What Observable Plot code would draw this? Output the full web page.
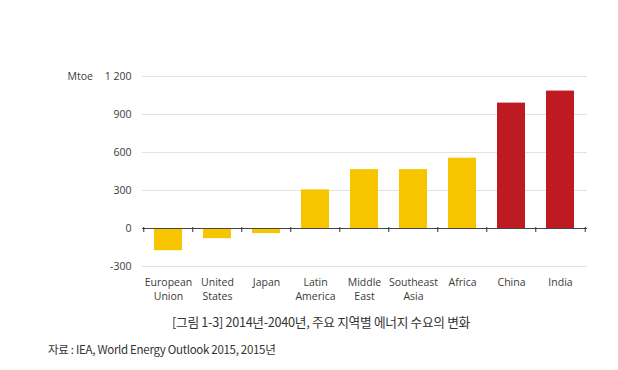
<!DOCTYPE html>
<html><head><meta charset="utf-8">
<script src="https://cdn.jsdelivr.net/npm/d3@7"></script>
<script src="https://cdn.jsdelivr.net/npm/@observablehq/plot@0.6"></script>
<style>
body{margin:0;background:#fff;width:618px;height:370px;overflow:hidden;font-family:"Open Sans",sans-serif;}
#chart{position:absolute;left:0;top:0;}
#title{position:absolute;top:312px;left:0;width:642px;text-align:center;font-family:"Liberation Sans Narrow","Noto Sans CJK KR",sans-serif;font-size:12.7px;color:#333;letter-spacing:-0.3px;}
#src{position:absolute;top:341px;left:48px;font-family:"Liberation Sans Narrow","Noto Sans CJK KR",sans-serif;font-size:11.5px;color:#333;letter-spacing:-0.3px;}
</style></head>
<body>
<div id="chart"></div>
<div id="title">[그림 1-3] 2014년-2040년, 주요 지역별 에너지 수요의 변화</div>
<div id="src">자료 : IEA, World Energy Outlook 2015, 2015년</div>
<script>
const regions = ["European Union","United States","Japan","Latin America","Middle East","Southeast Asia","Africa","China","India"];
const labels = ["European\nUnion","United\nStates","Japan","Latin\nAmerica","Middle\nEast","Southeast\nAsia","Africa","China","India"];
const change = [-175,-80,-40,305,465,465,555,990,1085];
const group = ["other","other","other","other","other","other","other","highlight","highlight"];
const yTicks = [-300,0,300,600,900,1200];

const data = regions.map((r,i)=>({region:r,value:change[i],group:group[i]}));
const W=618, H=312, ML=142, MR=31;
const step = (W-ML-MR)/regions.length;
const fmt = d => String(d).replace(/\B(?=(\d{3})+(?!\d))/g," ");
const tickStyle = {y1:()=>0, y2:()=>0, insetTop:-1, insetBottom:-4, stroke:"#333", strokeWidth:1};

const chart = Plot.plot({
  width:W, height:H, marginTop:76, marginBottom:46, marginLeft:ML, marginRight:MR,
  style:{fontFamily:"'Open Sans',sans-serif", fontSize:"10.5px", color:"#3a3a3a", background:"transparent"},
  x:{domain:regions, paddingInner:0.42, paddingOuter:0.2, label:null},
  y:{domain:[-300,1200], label:null},
  color:{domain:["other","highlight"], range:["#F7C400","#BE1A22"]},
  marks:[
    Plot.gridY(yTicks,{stroke:"#e2e2e2", strokeOpacity:1, strokeWidth:1}),
    Plot.barY(data,{x:"region", y:"value", fill:"group"}),
    Plot.ruleY([0],{stroke:"#444", strokeWidth:1}),
    Plot.ruleX(regions,{x:d=>d, dx:-step/2, ...tickStyle}),
    Plot.ruleX(["India"],{x:d=>d, dx:step/2, ...tickStyle}),
    Plot.axisY(yTicks,{tickSize:0, tickPadding:11, tickFormat:fmt, fontSize:10.5, fill:"#3a3a3a"}),
    Plot.axisX({tickSize:0, tickPadding:9, tickFormat:d=>labels[regions.indexOf(d)], fontSize:10.5, lineHeight:1.35, fill:"#3a3a3a"}),
    Plot.text(["Mtoe"],{frameAnchor:"left", y:()=>1200, text:d=>d, dx:-75, textAnchor:"start", fontSize:10.5, fill:"#3a3a3a"})
  ]
});
document.getElementById("chart").appendChild(chart);
</script>
</body></html>
